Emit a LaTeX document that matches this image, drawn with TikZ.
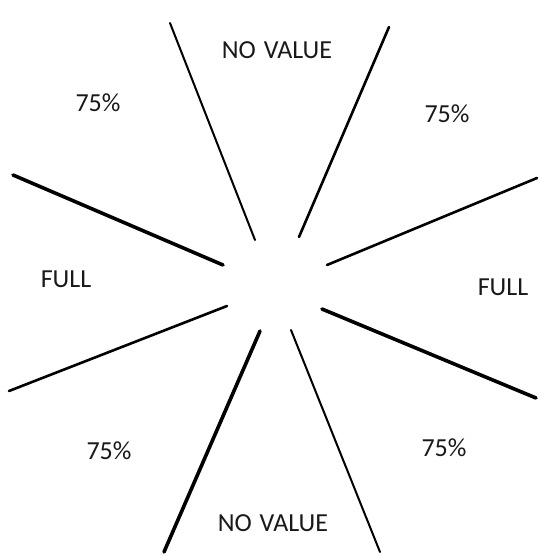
\documentclass[tikz,border=0pt]{standalone}
\usepackage{fontspec}
\setmainfont{Carlito}
\begin{document}
\begin{tikzpicture}[x=1pt,y=-1pt,
  lbl/.style={font=\fontsize{26}{30}\selectfont, inner sep=0pt, text=black!90},
  thinray/.style={line width=2pt, line cap=round},
  medray/.style={line width=2.6pt, line cap=round},
  thickray/.style={line width=3.6pt, line cap=round}]
\useasboundingbox (0,0) rectangle (539,556);
% ray end points
\coordinate (a1) at (170,23);  \coordinate (a2) at (255,240);
\coordinate (b1) at (389,27);  \coordinate (b2) at (299,237);
\coordinate (c1) at (13,175);  \coordinate (c2) at (223,265);
\coordinate (d1) at (9,391);   \coordinate (d2) at (227,306);
\coordinate (e1) at (537,178); \coordinate (e2) at (327,265);
\coordinate (f1) at (536,398); \coordinate (f2) at (322,309);
\coordinate (g1) at (164,552); \coordinate (g2) at (260,331);
\coordinate (h1) at (380,552); \coordinate (h2) at (291,330);
\draw[thinray] (a1) -- (a2);
\draw[medray] (b1) -- (b2);
\draw[thickray] (c1) -- (c2);
\draw[medray] (d1) -- (d2);
\draw[medray] (e1) -- (e2);
\draw[thickray] (f1) -- (f2);
\draw[thickray] (g1) -- (g2);
\draw[thinray] (h1) -- (h2);
% labels
\node[lbl] (nvt) at (277,50) {NO\hspace{0.3em}VALUE};
\node[lbl] (nvb) at (273,523) {NO\hspace{0.3em}VALUE};
\node[lbl] (fl) at (66,279) {FULL};
\node[lbl] (fr) at (503,287) {FULL};
\node[lbl] (ptl) at (98,103) {75\%};
\node[lbl] (ptr) at (447,114) {75\%};
\node[lbl] (pbl) at (109,451) {75\%};
\node[lbl] (pbr) at (444,448) {75\%};
\end{tikzpicture}
\end{document}
